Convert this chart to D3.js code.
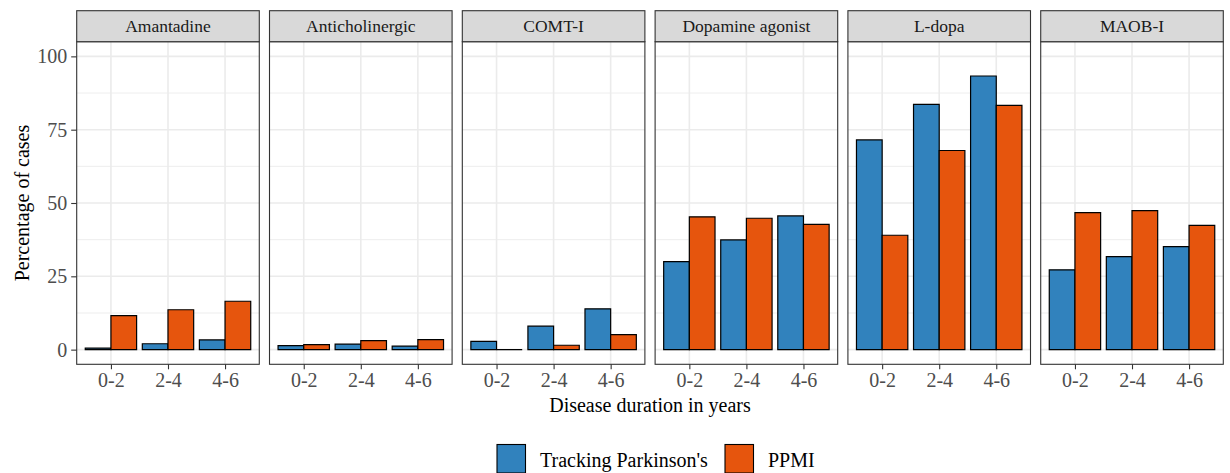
<!DOCTYPE html>
<html>
<head>
<meta charset="utf-8">
<script src="https://cdn.jsdelivr.net/npm/d3@7"></script>
<style>
  html, body { margin: 0; padding: 0; background: #ffffff; }
  svg { display: block; font-family: "Liberation Serif", "Times New Roman", serif; }
</style>
</head>
<body>
<svg id="chart" width="1230" height="473"></svg>
<script>
// Drug classes (facets), disease-duration bins and the two cohorts
const drugClasses = ["Amantadine", "Anticholinergic", "COMT-I", "Dopamine agonist", "L-dopa", "MAOB-I"];
const durations = ["0-2", "2-4", "4-6"];
const cohorts = ["Tracking Parkinson's", "PPMI"];

// Percentage of cases, one row per drug class, one value per duration bin
const trackingParkinsons = [
  [0.5, 2.0, 3.3],     // Amantadine
  [1.4, 1.9, 1.2],     // Anticholinergic
  [2.8, 8.0, 13.9],    // COMT-I
  [30.0, 37.4, 45.6],  // Dopamine agonist
  [71.5, 83.6, 93.3],  // L-dopa
  [27.2, 31.7, 35.1]   // MAOB-I
];
const ppmi = [
  [11.6, 13.6, 16.5],
  [1.7, 3.1, 3.4],
  [0.0, 1.5, 5.1],
  [45.3, 44.8, 42.7],
  [39.0, 67.9, 83.3],
  [46.7, 47.4, 42.4]
];

const yTicks = [0, 25, 50, 75, 100];
const yMinor = [12.5, 37.5, 62.5, 87.5];

const colors = { "Tracking Parkinson's": "#3182bd", "PPMI": "#e6550d" };
const seriesValues = { "Tracking Parkinson's": trackingParkinsons, "PPMI": ppmi };

const svg = d3.select("#chart");

const plotLeft = 76.7, plotRight = 1223.3;
const stripTop = 10.7, stripBottom = 41.7, panelBottom = 364.3;

const facet = d3.scaleBand()
  .domain(drugClasses)
  .range([plotLeft, plotRight])
  .paddingInner(0.053)
  .paddingOuter(0);
const panelW = facet.bandwidth();

const x = d3.scalePoint().domain(durations).range([0, panelW]).padding(0.6);
const step = x.step();
const barW = 0.45 * step;

const y = d3.scaleLinear().domain([-5, 105]).range([panelBottom, stripBottom]);

const grid = "#ebebeb";
const border = "#333333";

// closed rectangle outline; still draws a hairline when the value is zero
function barPath(x0, y0, w, y1) {
  const p = d3.path();
  p.moveTo(x0, y1);
  p.lineTo(x0 + w, y1);
  p.lineTo(x0 + w, y0);
  p.lineTo(x0, y0);
  p.closePath();
  return p.toString();
}

drugClasses.forEach((dc, i) => {
  const g = svg.append("g").attr("transform", `translate(${facet(dc)},0)`);

  // panel background
  g.append("rect").attr("x", 0).attr("y", stripBottom).attr("width", panelW)
    .attr("height", panelBottom - stripBottom).attr("fill", "#ffffff");

  // minor and major horizontal grid
  g.selectAll(".ymin").data(yMinor).join("line")
    .attr("x1", 0).attr("x2", panelW)
    .attr("y1", d => y(d)).attr("y2", d => y(d))
    .attr("stroke", grid).attr("stroke-width", 0.9);
  g.selectAll(".ymaj").data(yTicks).join("line")
    .attr("x1", 0).attr("x2", panelW)
    .attr("y1", d => y(d)).attr("y2", d => y(d))
    .attr("stroke", grid).attr("stroke-width", 1.6);
  // vertical grid at duration bins
  g.selectAll(".xmaj").data(durations).join("line")
    .attr("x1", d => x(d)).attr("x2", d => x(d))
    .attr("y1", stripBottom).attr("y2", panelBottom)
    .attr("stroke", grid).attr("stroke-width", 1.6);

  // dodged bars
  cohorts.forEach((c, k) => {
    const vals = seriesValues[c][i];
    g.selectAll(".bar" + k).data(durations).join("path")
      .attr("d", (d, j) => barPath(x(d) - barW + k * barW, y(0), barW, y(vals[j])))
      .attr("fill", colors[c])
      .attr("stroke", "#000000")
      .attr("stroke-width", 1.2)
      .attr("stroke-linejoin", "miter");
  });

  // panel border
  g.append("rect").attr("x", 0).attr("y", stripBottom).attr("width", panelW)
    .attr("height", panelBottom - stripBottom).attr("fill", "none")
    .attr("stroke", border).attr("stroke-width", 1.1);

  // strip
  g.append("rect").attr("x", 0).attr("y", stripTop).attr("width", panelW)
    .attr("height", stripBottom - stripTop).attr("fill", "#d9d9d9")
    .attr("stroke", border).attr("stroke-width", 1.1);
  g.append("text").attr("x", panelW / 2).attr("y", (stripTop + stripBottom) / 2)
    .attr("dy", "0.35em").attr("text-anchor", "middle")
    .attr("font-size", 17.5).attr("fill", "#1a1a1a").text(dc);

  // x axis per panel
  const xAxis = g.append("g").attr("transform", `translate(0,${panelBottom})`)
    .call(d3.axisBottom(x).tickSize(5).tickPadding(4));
  xAxis.select(".domain").remove();
  xAxis.selectAll(".tick line").attr("stroke", border).attr("stroke-width", 1.1);
  xAxis.selectAll(".tick text").attr("font-size", 20).attr("fill", "#4d4d4d")
    .attr("font-family", "Liberation Serif, serif");
});

// y axis on the first panel
const yAxis = svg.append("g").attr("transform", `translate(${plotLeft},0)`)
  .call(d3.axisLeft(y).tickValues(yTicks).tickSize(5.5).tickPadding(4));
yAxis.select(".domain").remove();
yAxis.selectAll(".tick line").attr("stroke", border).attr("stroke-width", 1.1);
yAxis.selectAll(".tick text").attr("font-size", 20).attr("fill", "#4d4d4d")
  .attr("font-family", "Liberation Serif, serif");

// axis titles
svg.append("text").attr("x", (plotLeft + plotRight) / 2).attr("y", 412)
  .attr("text-anchor", "middle").attr("font-size", 20).attr("fill", "#000")
  .text("Disease duration in years");
svg.append("text")
  .attr("transform", `translate(29,${(stripBottom + panelBottom) / 2}) rotate(-90)`)
  .attr("text-anchor", "middle").attr("font-size", 20).attr("fill", "#000")
  .text("Percentage of cases");

// legend
const legend = svg.append("g");
const keyPos = [497, 725];
cohorts.forEach((c, k) => {
  legend.append("rect").attr("x", keyPos[k]).attr("y", 444.5)
    .attr("width", 28.5).attr("height", 28.5)
    .attr("fill", colors[c]).attr("stroke", "#000").attr("stroke-width", 1.1);
  legend.append("text").attr("x", keyPos[k] + 43).attr("y", 467)
    .attr("font-size", 20).attr("fill", "#000").text(c);
});
</script>
</body>
</html>
